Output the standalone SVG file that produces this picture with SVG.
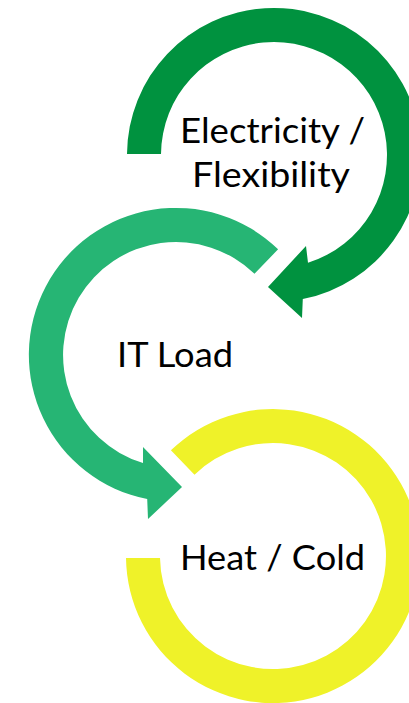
<svg xmlns="http://www.w3.org/2000/svg" width="409" height="703" viewBox="0 0 409 703">
<style>
.lbl{font-family:Lato,"Open Sans","Liberation Sans",sans-serif;font-size:35px;fill:#000;text-anchor:middle}
.dark{fill:#00923f}
.mid{fill:#26b574}
.yel{fill:#eff229}
</style>
<rect width="409" height="703" fill="#fff"/>
<g id="node-electricity">
<path class="dark" d="M127,154 A147,147 0 1 1 302.8,299.1 L302,318 L268,287 L306,246 L308,262.8 A113,113 0 1 0 161,154 Z"/>
<text class="lbl" x="272.5" y="143" textLength="185" lengthAdjust="spacingAndGlyphs">Electricity /</text>
<text class="lbl" x="271" y="187" textLength="158" lengthAdjust="spacingAndGlyphs">Flexibility</text>
</g>
<g id="node-itload">
<path class="mid" d="M278.1,249.3 A147,147 0 1 0 147.2,499.1 L148,519 L182,487 L143,447 L143,463.1 A113,113 0 1 1 254.5,273.7 Z"/>
<text class="lbl" x="175" y="367" textLength="116" lengthAdjust="spacingAndGlyphs">IT Load</text>
</g>
<g id="node-heat">
<path class="yel" d="M170.9,450.3 A147,147 0 1 1 126,558 L160,558 A113,113 0 1 0 194.5,474.7 Z"/>
<text class="lbl" x="272.5" y="570" textLength="185" lengthAdjust="spacingAndGlyphs">Heat / Cold</text>
</g>
<g id="connectors"></g>
</svg>
